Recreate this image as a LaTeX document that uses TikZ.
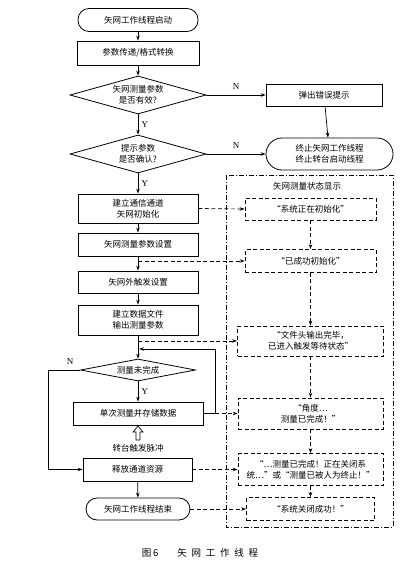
\documentclass[tikz,border=0pt]{standalone}
\usepackage{fontspec}
\setmainfont{Noto Sans CJK SC}
\newfontfamily\yn{Liberation Serif}
\usetikzlibrary{shapes.geometric,arrows.meta}

\tikzset{
  proc/.style={draw, line width=0.8pt, inner sep=1pt, align=center,
    minimum width=120pt, minimum height=23pt},
  term/.style={proc, rounded corners=11pt},
  decide/.style={draw, diamond, line width=0.8pt, inner sep=0pt, align=center},
  stat/.style={draw, line width=0.8pt, dash pattern=on 4pt off 2.5pt,
    inner sep=1pt, align=center, minimum height=22pt},
  flow/.style={line width=0.7pt, -{Stealth[length=5pt,width=3.5pt]}},
  info/.style={line width=0.7pt, dash pattern=on 4pt off 2.5pt,
    -{Stealth[length=5pt,width=3.5pt]}},
  mark yn/.style={font=\yn\fontsize{9}{9}\selectfont},
}

\begin{document}
\begin{tikzpicture}[x=1pt,y=-1pt,font=\fontsize{8.5}{11}\selectfont]
  \useasboundingbox (0,0) rectangle (419,572);

  % main thread
  \node[term] (start) at (138,20) {矢网工作线程启动};
  \node[proc, minimum width=122pt, minimum height=24pt] (conv) at (138,53) {参数传递/格式转换};
  \node[decide, shape aspect=3.6, minimum width=136pt, minimum height=38pt] (chk1) at (138,95)
    {矢网测量参数\\是否有效?};
  \node[decide, shape aspect=3.6, minimum width=136pt, minimum height=38pt] (chk2) at (138,154)
    {提示参数\\是否确认?};
  \node[proc, minimum height=29pt] (init) at (138,208.5) {建立通信通道\\矢网初始化};
  \node[proc] (para) at (138,244.5) {矢网测量参数设置};
  \node[proc, minimum height=22pt] (trig) at (138,282) {矢网外触发设置};
  \node[proc, minimum height=30pt] (file) at (138,320) {建立数据文件\\输出测量参数};
  \node[decide, shape aspect=5.2, minimum width=115pt, minimum height=22pt] (loopd) at (138,370)
    {测量未完成};
  \node[proc, minimum width=130pt] (meas) at (138,413.5) {单次测量并存储数据};
  \node[proc, minimum width=109pt] (rel) at (137.5,469.5) {释放通道资源};
  \node[term, minimum width=104pt, minimum height=22pt] (stop) at (138,509) {矢网工作线程结束};

  % error branch
  \node[proc, minimum width=116pt, minimum height=22pt] (err) at (324,95) {弹出错误提示};
  \node[proc, rounded corners=16pt, minimum width=127pt, minimum height=32pt] (quit) at (329.5,154)
    {终止矢网工作线程\\终止转台启动线程};

  \draw[flow] (start) -- (conv);
  \draw[flow] (conv) -- (chk1);
  \draw[flow] (chk1) -- node[mark yn, right] {Y} (chk2);
  \draw[flow] (chk2) -- node[mark yn, right] {Y} (init);
  \draw[flow] (chk1.east) -- node[mark yn, above=2pt] {N} (err.west);
  \draw[flow] (chk2.east) -- node[mark yn, above=2pt] {N} (quit.west);
  \draw[flow] (err) -- (quit);
  \draw[flow] (init) -- (para);
  \draw[flow] (para) -- (trig);
  \draw[flow] (trig) -- (file);
  \draw[flow] (file) -- (loopd);
  \draw[flow] (loopd) -- node[mark yn, right] {Y} (meas);
  \draw[flow] (rel) -- (stop);

  % measurement loop
  \coordinate (lp) at (215,349);
  \coordinate (jn) at (139,349);
  \draw[flow] (meas.east) -| (lp) -- (jn);
  \coordinate (nl) at (48,370);
  \draw[flow] (loopd.west) -- (nl) |- (rel.west);
  \node[mark yn] (nmark) at (70,362) {N};

  % trigger pulse
  \draw[line width=0.7pt] (136,440) -- (136,432) -- (133,432) -- (138,426)
    -- (143,432) -- (140,432) -- (140,440) -- cycle;
  \node (pulse) at (138,448) {转台触发脉冲};

  % status display
  \draw[line width=0.8pt, dash pattern=on 5pt off 2pt on 1pt off 2pt]
    (226,175) rectangle (393,527);
  \node (title) at (307,186) {矢网测量状态显示};
  \node[stat, minimum width=131pt] (s1) at (310.5,209) {“系统正在初始化”};
  \node[stat, minimum width=131pt, minimum height=23pt] (s2) at (310.5,261) {“已成功初始化”};
  \node[stat, minimum width=146pt, minimum height=30pt] (s3) at (310.5,341)
    {“文件头输出完毕，\\已进入触发等待状态”};
  \node[stat, minimum width=145pt, minimum height=31pt] (s4) at (310.5,413.5)
    {“角度…\\测量已完成！”};
  \node[stat, minimum width=145pt, minimum height=32pt] (s5) at (310.5,469.5)
    {“…测量已完成！正在关闭系\\统…”或“测量已被人为终止！”};
  \node[stat, minimum width=128pt, minimum height=23pt] (s6) at (310.5,509) {“系统关闭成功！”};

  \draw[info] (s1) -- (s2);
  \draw[info] (s2) -- (s3);
  \draw[info] (s3) -- (s4);
  \draw[info] (s4) -- (s5);
  \draw[info] (s5) -- (s6);

  \coordinate (t2) at (138,261);
  \coordinate (t3) at (138,341);
  \draw[info] (init.east) -- (s1.west);
  \draw[info] (t2) -- (s2.west);
  \draw[info] (t3) -- (s3.west);
  \draw[info] (meas.east -| lp) -- (s4.west);
  \draw[info] (rel.east) -- (s5.west);
  \draw[info] (stop.east) -- (s6.west);

  \node[font=\fontsize{9.5}{11}\selectfont] (cap) at (200,553)
    {图\,6\qquad 矢\enspace 网\enspace 工\enspace 作\enspace 线\enspace 程};
\end{tikzpicture}
\end{document}
